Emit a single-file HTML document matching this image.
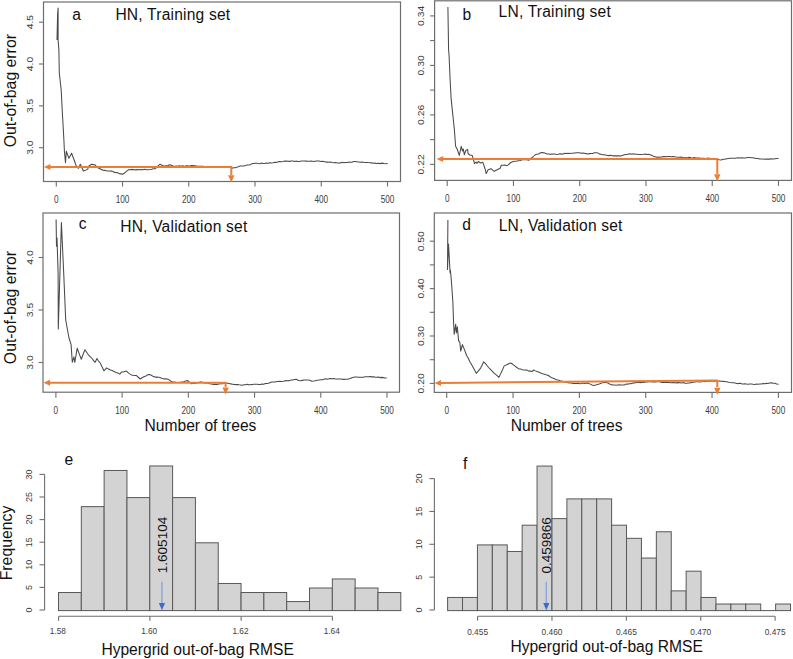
<!DOCTYPE html><html><head><meta charset="utf-8"><style>html,body{margin:0;padding:0;width:793px;height:659px;overflow:hidden;background:#fff}</style></head><body><svg width="793" height="659" viewBox="0 0 793 659" style="position:absolute;left:0;top:0;font-family:&quot;Liberation Sans&quot;,sans-serif">
<rect width="793" height="659" fill="#fff"/>
<rect x="43.5" y="2" width="357" height="179.5" fill="none" stroke="#6e6e6e" stroke-width="1.2"/>
<line x1="56.3" y1="181" x2="56.3" y2="186.5" stroke="#6e6e6e" stroke-width="1.1"/>
<text transform="translate(56.3,203.1) scale(0.8,1)" x="0" y="0" font-size="10.3" fill="#3c3c3c" text-anchor="middle">0</text>
<line x1="122.54" y1="181" x2="122.54" y2="186.5" stroke="#6e6e6e" stroke-width="1.1"/>
<text transform="translate(122.54,203.1) scale(0.8,1)" x="0" y="0" font-size="10.3" fill="#3c3c3c" text-anchor="middle">100</text>
<line x1="188.78" y1="181" x2="188.78" y2="186.5" stroke="#6e6e6e" stroke-width="1.1"/>
<text transform="translate(188.78,203.1) scale(0.8,1)" x="0" y="0" font-size="10.3" fill="#3c3c3c" text-anchor="middle">200</text>
<line x1="255.02" y1="181" x2="255.02" y2="186.5" stroke="#6e6e6e" stroke-width="1.1"/>
<text transform="translate(255.02,203.1) scale(0.8,1)" x="0" y="0" font-size="10.3" fill="#3c3c3c" text-anchor="middle">300</text>
<line x1="321.26" y1="181" x2="321.26" y2="186.5" stroke="#6e6e6e" stroke-width="1.1"/>
<text transform="translate(321.26,203.1) scale(0.8,1)" x="0" y="0" font-size="10.3" fill="#3c3c3c" text-anchor="middle">400</text>
<line x1="387.5" y1="181" x2="387.5" y2="186.5" stroke="#6e6e6e" stroke-width="1.1"/>
<text transform="translate(387.5,203.1) scale(0.8,1)" x="0" y="0" font-size="10.3" fill="#3c3c3c" text-anchor="middle">500</text>
<line x1="39" y1="22.2" x2="43.5" y2="22.2" stroke="#6e6e6e" stroke-width="1.1"/>
<text transform="translate(32.6,22.2) scale(0.8,1) rotate(-90)" x="0" y="0" font-size="10.3" fill="#3c3c3c" text-anchor="middle">4.5</text>
<line x1="39" y1="64" x2="43.5" y2="64" stroke="#6e6e6e" stroke-width="1.1"/>
<text transform="translate(32.6,64) scale(0.8,1) rotate(-90)" x="0" y="0" font-size="10.3" fill="#3c3c3c" text-anchor="middle">4.0</text>
<line x1="39" y1="105.9" x2="43.5" y2="105.9" stroke="#6e6e6e" stroke-width="1.1"/>
<text transform="translate(32.6,105.9) scale(0.8,1) rotate(-90)" x="0" y="0" font-size="10.3" fill="#3c3c3c" text-anchor="middle">3.5</text>
<line x1="39" y1="147.7" x2="43.5" y2="147.7" stroke="#6e6e6e" stroke-width="1.1"/>
<text transform="translate(32.6,147.7) scale(0.8,1) rotate(-90)" x="0" y="0" font-size="10.3" fill="#3c3c3c" text-anchor="middle">3.0</text>
<polyline points="57,40 57.6,14 58.1,8 58.1,40 58.9,50 59.3,73 61.2,90 62.2,110 63.9,140 64.4,151.3 65.5,162.7 66.3,151.3 68.9,158.2 71.6,153.2 73.85,159.27 76.1,165.7 78.4,168.4 80.3,164.2 81.8,167.2 83.3,171 84.8,170.6 87.8,169.1 88.6,166.1 91.6,164.2 93.5,164.63 95.4,165 96.9,167.2 99.9,168.7 103,170.3 104.7,170.38 106.4,170.72 108.1,170.91 109.8,171 111.41,171.11 113.03,171.48 114.64,172.47 116.25,172.48 117.86,172.88 119.47,173.82 121.09,173.87 122.7,174.3 124.7,172.97 126.7,171.15 128.7,169.6 130.44,169.7 132.19,169.36 133.93,169.69 135.67,169.86 137.41,169.62 139.16,169.77 140.9,169.6 142.7,169.72 144.5,169.29 146.3,169.78 148.1,169.66 149.9,169.6 151.57,169.19 153.23,168.74 154.9,168.8 156.53,167.56 158.17,165.78 159.8,164.3 161.47,165.02 163.13,165.7 164.8,166 166.43,165.72 168.07,165.43 169.7,164.7 171.33,165.16 172.97,165.98 174.6,166.3 176.23,166.06 177.87,166.2 179.5,165.7 181.13,166.17 182.77,165.82 184.4,166.3 186.04,165.89 187.68,165.78 189.32,166.15 190.96,165.62 192.6,165.5 194.23,165.86 195.87,165.89 197.5,166.3 199.25,166.33 201,166.26 202.75,166.26 204.5,166.44 206.25,166.46 208,166.7 209.75,166.57 211.5,166.76 213.25,166.73 215,166.5 216.7,166.9 218.4,166.73 220.1,166.43 221.8,166.97 223.5,167.1 225.2,167.12 226.9,166.94 228.6,167.09 230.3,167 232,168.3 233.63,167.71 235.27,167.77 236.9,167.2 238.53,166.62 240.17,166.08 241.8,166 243.45,166 245.1,165.84 246.75,164.96 248.4,165 250.03,164.68 251.67,163.87 253.3,163.4 254.94,163.16 256.59,163.26 258.23,163.59 259.87,163.66 261.51,163.08 263.16,163.48 264.8,163.4 266.46,162.9 268.13,163.19 269.79,162.74 271.45,162.94 273.12,162.83 274.78,162.31 276.45,162.48 278.11,161.81 279.77,161.47 281.44,161.65 283.1,161.4 284.74,161.05 286.38,161.14 288.03,161.26 289.67,161.38 291.31,161.03 292.95,160.93 294.59,161.48 296.23,161.07 297.88,161.5 299.52,161.43 301.16,161.04 302.8,161.1 304.44,161.07 306.08,161.11 307.72,161.2 309.36,161.17 311,161.14 312.64,161.18 314.28,161.41 315.92,161.1 317.56,161.05 319.2,161.1 320.84,161.43 322.47,161.26 324.11,161.48 325.75,162.13 327.38,161.98 329.02,162.17 330.65,161.97 332.29,162.42 333.93,162.71 335.56,162.49 337.2,163 338.84,162.97 340.48,162.88 342.12,162.37 343.77,162.66 345.41,162.43 347.05,162.48 348.69,162.14 350.33,162.28 351.97,162.19 353.62,161.58 355.26,161.5 356.9,161.7 358.54,161.96 360.18,162.31 361.82,161.95 363.47,162.24 365.11,162.47 366.75,162.42 368.39,162.6 370.03,162.7 371.68,162.88 373.32,163.18 374.96,163.12 376.6,163.4 378.45,163.33 380.3,163.62 382.15,163.12 384,163.52 385.85,163.65 387.7,163.5" fill="none" stroke="#4a4a4a" stroke-width="1.05" stroke-linejoin="round" />
<polyline points="50,167.1 231.3,167.1 231.3,175" fill="none" stroke="#ed7d31" stroke-width="2.0" stroke-linejoin="round" />
<polygon points="43.9,167.1 50.4,164.1 50.4,170.1" fill="#ed7d31"/>
<polygon points="231.3,182.2 228.1,175.2 234.5,175.2" fill="#ed7d31"/>
<rect x="434.6" y="0.8" width="356.9" height="179.6" fill="none" stroke="#6e6e6e" stroke-width="1.2"/>
<line x1="447.2" y1="180.4" x2="447.2" y2="185.9" stroke="#6e6e6e" stroke-width="1.1"/>
<text transform="translate(447.2,202) scale(0.8,1)" x="0" y="0" font-size="10.3" fill="#3c3c3c" text-anchor="middle">0</text>
<line x1="513.46" y1="180.4" x2="513.46" y2="185.9" stroke="#6e6e6e" stroke-width="1.1"/>
<text transform="translate(513.46,202) scale(0.8,1)" x="0" y="0" font-size="10.3" fill="#3c3c3c" text-anchor="middle">100</text>
<line x1="579.72" y1="180.4" x2="579.72" y2="185.9" stroke="#6e6e6e" stroke-width="1.1"/>
<text transform="translate(579.72,202) scale(0.8,1)" x="0" y="0" font-size="10.3" fill="#3c3c3c" text-anchor="middle">200</text>
<line x1="645.98" y1="180.4" x2="645.98" y2="185.9" stroke="#6e6e6e" stroke-width="1.1"/>
<text transform="translate(645.98,202) scale(0.8,1)" x="0" y="0" font-size="10.3" fill="#3c3c3c" text-anchor="middle">300</text>
<line x1="712.24" y1="180.4" x2="712.24" y2="185.9" stroke="#6e6e6e" stroke-width="1.1"/>
<text transform="translate(712.24,202) scale(0.8,1)" x="0" y="0" font-size="10.3" fill="#3c3c3c" text-anchor="middle">400</text>
<line x1="778.5" y1="180.4" x2="778.5" y2="185.9" stroke="#6e6e6e" stroke-width="1.1"/>
<text transform="translate(778.5,202) scale(0.8,1)" x="0" y="0" font-size="10.3" fill="#3c3c3c" text-anchor="middle">500</text>
<line x1="430.1" y1="164.4" x2="434.6" y2="164.4" stroke="#6e6e6e" stroke-width="1.1"/>
<text transform="translate(423.6,164.4) scale(0.8,1) rotate(-90)" x="0" y="0" font-size="10.3" fill="#3c3c3c" text-anchor="middle">0.22</text>
<line x1="430.1" y1="139.6" x2="434.6" y2="139.6" stroke="#6e6e6e" stroke-width="1.1"/>
<line x1="430.1" y1="114.9" x2="434.6" y2="114.9" stroke="#6e6e6e" stroke-width="1.1"/>
<text transform="translate(423.6,114.9) scale(0.8,1) rotate(-90)" x="0" y="0" font-size="10.3" fill="#3c3c3c" text-anchor="middle">0.26</text>
<line x1="430.1" y1="90.1" x2="434.6" y2="90.1" stroke="#6e6e6e" stroke-width="1.1"/>
<line x1="430.1" y1="65.4" x2="434.6" y2="65.4" stroke="#6e6e6e" stroke-width="1.1"/>
<text transform="translate(423.6,65.4) scale(0.8,1) rotate(-90)" x="0" y="0" font-size="10.3" fill="#3c3c3c" text-anchor="middle">0.30</text>
<line x1="430.1" y1="40.6" x2="434.6" y2="40.6" stroke="#6e6e6e" stroke-width="1.1"/>
<line x1="430.1" y1="15.9" x2="434.6" y2="15.9" stroke="#6e6e6e" stroke-width="1.1"/>
<text transform="translate(423.6,15.9) scale(0.8,1) rotate(-90)" x="0" y="0" font-size="10.3" fill="#3c3c3c" text-anchor="middle">0.34</text>
<polyline points="447.9,7 448.6,50 449.1,56 450.1,79.3 451.1,98.4 454.4,130 454.4,130 455.6,146.3 457.1,149 459.3,155.4 461.2,146.3 462.5,151 463.3,149 464.3,154.7 465.8,150.5 467.7,149.4 468,153.5 469.9,155 472.2,155.4 473.7,160.7 474.5,163.7 476,162 477,163.5 478.3,161.5 480.5,163 482.8,162.2 485.1,169 486.2,173.6 488.1,169.8 491.1,168.7 494.1,171.3 497.2,169.8 500.2,168.3 501.3,165.3 502.93,165.17 504.55,165.11 506.18,165.51 507.8,165.3 510.7,162.5 512.7,161.82 514.7,161.28 516.7,161 518.52,160.65 520.34,160.54 522.16,159.82 523.98,159.68 525.8,159.5 528.8,160.3 530.83,158.42 532.87,157 534.9,155 536.77,154.31 538.65,153.95 540.52,152.82 542.4,152.4 544.7,153.04 547,153.9 548.6,154.09 550.2,154.34 551.8,154.12 553.4,154.04 555,154.05 556.6,154.4 558.23,154.25 559.87,153.85 561.5,154.11 563.13,153.97 564.77,153.35 566.4,153.4 568.04,153.17 569.67,153.47 571.31,153.27 572.95,153.31 574.59,152.92 576.23,152.69 577.86,152.73 579.5,152.8 581.14,153.23 582.78,153.08 584.42,153.35 586.06,153.62 587.7,153.9 589.34,153.62 590.98,153.4 592.62,153.53 594.26,152.78 595.9,152.8 597.53,152.84 599.17,153.88 600.8,154.22 602.43,154.67 604.07,154.67 605.7,155.1 607.34,155.53 608.99,155.62 610.63,155.24 612.28,155.72 613.92,155.89 615.57,155.88 617.21,155.89 618.86,155.84 620.5,156.1 622.14,155.55 623.78,155.03 625.42,154.48 627.06,154.4 628.7,153.9 630.34,153.78 631.98,154.18 633.62,153.68 635.27,154.32 636.91,154.2 638.55,154.4 640.19,154.41 641.83,154.45 643.48,154.25 645.12,153.89 646.76,154.44 648.4,154.3 650.04,154.65 651.68,155.32 653.32,156.15 654.96,156.64 656.6,157.2 658.23,157.03 659.86,157.28 661.49,156.94 663.11,156.63 664.74,156.46 666.37,156.77 668,156.4 669.64,156.5 671.29,156.83 672.93,156.64 674.57,156.65 676.21,157 677.86,157.31 679.5,157.2 681.13,157.05 682.76,157.56 684.39,157.74 686.02,157.73 687.65,157.83 689.28,157.34 690.91,157.85 692.54,158.09 694.17,157.6 695.8,158 697.44,157.91 699.08,157.98 700.72,158.23 702.35,158.22 703.99,158.33 705.63,158.61 707.27,158.14 708.91,158.24 710.55,158.36 712.18,158.43 713.82,158.46 715.46,159.16 717.1,158.9 719.15,159.7 721.2,160 723.05,159.31 724.9,159.2 726.75,158.67 728.6,158.4 730.24,158.22 731.87,158.2 733.51,158.35 735.14,158.26 736.78,158.05 738.41,157.88 740.05,157.93 741.69,157.74 743.32,157.99 744.96,158.05 746.59,157.77 748.23,157.51 749.86,157.52 751.5,157.7 753.14,157.81 754.77,158.17 756.41,158.5 758.05,158.42 759.69,158.91 761.33,158.99 762.96,159.05 764.6,159.3 766.35,159.11 768.1,159.1 769.85,159.14 771.6,158.84 773.35,158.94 775.1,158.67 776.85,158.42 778.6,158.5" fill="none" stroke="#4a4a4a" stroke-width="1.05" stroke-linejoin="round" />
<polyline points="442,159.1 717.3,159.1 717.3,174" fill="none" stroke="#ed7d31" stroke-width="2.0" stroke-linejoin="round" />
<polygon points="436.6,159.1 443.1,156.1 443.1,162.1" fill="#ed7d31"/>
<polygon points="717.3,181.3 714.1,174.3 720.5,174.3" fill="#ed7d31"/>
<rect x="43" y="213" width="356.5" height="179.2" fill="none" stroke="#6e6e6e" stroke-width="1.2"/>
<line x1="55.9" y1="392.2" x2="55.9" y2="397.7" stroke="#6e6e6e" stroke-width="1.1"/>
<text transform="translate(55.9,413.5) scale(0.8,1)" x="0" y="0" font-size="10.3" fill="#3c3c3c" text-anchor="middle">0</text>
<line x1="122.12" y1="392.2" x2="122.12" y2="397.7" stroke="#6e6e6e" stroke-width="1.1"/>
<text transform="translate(122.12,413.5) scale(0.8,1)" x="0" y="0" font-size="10.3" fill="#3c3c3c" text-anchor="middle">100</text>
<line x1="188.34" y1="392.2" x2="188.34" y2="397.7" stroke="#6e6e6e" stroke-width="1.1"/>
<text transform="translate(188.34,413.5) scale(0.8,1)" x="0" y="0" font-size="10.3" fill="#3c3c3c" text-anchor="middle">200</text>
<line x1="254.56" y1="392.2" x2="254.56" y2="397.7" stroke="#6e6e6e" stroke-width="1.1"/>
<text transform="translate(254.56,413.5) scale(0.8,1)" x="0" y="0" font-size="10.3" fill="#3c3c3c" text-anchor="middle">300</text>
<line x1="320.78" y1="392.2" x2="320.78" y2="397.7" stroke="#6e6e6e" stroke-width="1.1"/>
<text transform="translate(320.78,413.5) scale(0.8,1)" x="0" y="0" font-size="10.3" fill="#3c3c3c" text-anchor="middle">400</text>
<line x1="387" y1="392.2" x2="387" y2="397.7" stroke="#6e6e6e" stroke-width="1.1"/>
<text transform="translate(387,413.5) scale(0.8,1)" x="0" y="0" font-size="10.3" fill="#3c3c3c" text-anchor="middle">500</text>
<line x1="38.5" y1="362.5" x2="43" y2="362.5" stroke="#6e6e6e" stroke-width="1.1"/>
<text transform="translate(32.6,362.5) scale(0.8,1) rotate(-90)" x="0" y="0" font-size="10.3" fill="#3c3c3c" text-anchor="middle">3.0</text>
<line x1="38.5" y1="310" x2="43" y2="310" stroke="#6e6e6e" stroke-width="1.1"/>
<text transform="translate(32.6,310) scale(0.8,1) rotate(-90)" x="0" y="0" font-size="10.3" fill="#3c3c3c" text-anchor="middle">3.5</text>
<line x1="38.5" y1="257.5" x2="43" y2="257.5" stroke="#6e6e6e" stroke-width="1.1"/>
<text transform="translate(32.6,257.5) scale(0.8,1) rotate(-90)" x="0" y="0" font-size="10.3" fill="#3c3c3c" text-anchor="middle">4.0</text>
<polyline points="56.1,219.6 56.5,246.3 57,238 58.1,273 58.3,329 61.4,222.6 63.7,273 65.7,320 65.7,320 67.35,329.03 69,338 71.1,344.6 72.3,362.3 73.9,356.9 74.8,362.3 77.2,348.2 79.25,353.89 81.3,359.3 83.1,354.25 84.9,349.8 86.8,352.45 88.7,355.2 90.35,356.8 92,358.5 93.6,360.67 95.2,362.3 96.9,358.5 98.55,361.06 100.2,363 102.05,366.81 103.9,370.8 106.7,367.9 108.55,369.1 110.4,369.95 112.25,370.51 114.1,371.6 116,372.41 117.9,373 119.8,374.1 121.5,372.1 123.13,371.99 124.77,371.55 126.4,371.1 128.03,372.64 129.67,373.84 131.3,374.9 132.93,375.18 134.57,375.4 136.2,375.4 138.25,377.24 140.3,379 142.35,377.52 144.4,376.6 146.03,375.93 147.67,374.79 149.3,374.4 151.35,375.25 153.4,376.6 155.04,377.11 156.68,376.92 158.32,377.27 159.96,377.6 161.6,378.2 163.45,378.87 165.3,378.78 167.15,379.07 169,379.8 171.05,381.29 173.1,382.3 174.75,382.03 176.4,382.54 178.05,382.42 179.7,382.3 181.65,382.09 183.6,381.72 185.55,381.01 187.5,380.5 189.55,382.36 191.6,383.8 193.23,383.19 194.87,383.42 196.5,382.96 198.13,382.82 199.77,382.11 201.4,382.1 203.04,382.61 204.68,383.08 206.32,382.81 207.96,383.34 209.6,383.8 211.45,384.04 213.3,384.43 215.15,384.22 217,384.6 218.8,384.06 220.6,383.78 222.4,383.72 224.2,383.5 226,383 227.64,383.25 229.28,383.55 230.92,383.89 232.56,384.18 234.2,384.6 235.82,384.62 237.45,384.46 239.07,384.83 240.7,384.9 242.35,385.16 244,384.69 245.65,384.85 247.3,384.36 248.95,384.66 250.6,384.63 252.25,384.5 253.9,384.3 255.53,384.31 257.17,384.29 258.8,384.4 260.43,384.58 262.07,384.05 263.7,384.3 265.34,383.58 266.98,383.59 268.62,383.27 270.26,382.55 271.9,382.1 273.5,381.95 275.1,382.02 276.7,381.54 278.3,381.48 279.9,381.32 281.5,381.47 283.1,381.3 284.74,380.92 286.38,380.61 288.01,380.68 289.65,380.62 291.29,379.91 292.93,379.94 294.56,379.49 296.2,379.3 298.7,380.5 300.5,380.65 302.3,380.36 304.1,380.04 305.9,379.9 307.7,380 309.75,380.32 311.8,381.3 313.56,381 315.31,380.65 317.07,380.21 318.83,380.06 320.59,379.75 322.34,379.78 324.1,379.3 325.75,378.85 327.4,379.24 329.05,378.69 330.7,378.5 332.33,378.65 333.96,378.64 335.59,378.97 337.22,379.05 338.85,378.94 340.48,378.97 342.11,379.21 343.74,379.39 345.37,379.15 347,379.3 348.65,378.94 350.3,378.57 351.95,377.7 353.6,377.2 355.24,376.97 356.88,376.93 358.53,377.23 360.17,377.16 361.81,377.31 363.45,377.2 365.09,376.73 366.73,376.65 368.38,376.66 370.02,376.56 371.66,376.88 373.3,376.7 374.98,377.11 376.65,377.3 378.32,377.02 380,377.61 381.68,377.38 383.35,377.62 385.02,378 386.7,378" fill="none" stroke="#4a4a4a" stroke-width="1.05" stroke-linejoin="round" />
<polyline points="50,382.7 225.6,382.7 225.6,387" fill="none" stroke="#ed7d31" stroke-width="2.0" stroke-linejoin="round" />
<polygon points="43.5,382.8 50,379.8 50,385.8" fill="#ed7d31"/>
<polygon points="225.6,394.6 222.4,387.6 228.8,387.6" fill="#ed7d31"/>
<text x="200.5" y="430.9" font-size="15.6" fill="#111" text-anchor="middle" letter-spacing="0" >Number of trees</text>
<rect x="434.3" y="213" width="357.2" height="179.4" fill="none" stroke="#6e6e6e" stroke-width="1.2"/>
<line x1="446.7" y1="392.4" x2="446.7" y2="397.9" stroke="#6e6e6e" stroke-width="1.1"/>
<text transform="translate(446.7,413.5) scale(0.8,1)" x="0" y="0" font-size="10.3" fill="#3c3c3c" text-anchor="middle">0</text>
<line x1="513.04" y1="392.4" x2="513.04" y2="397.9" stroke="#6e6e6e" stroke-width="1.1"/>
<text transform="translate(513.04,413.5) scale(0.8,1)" x="0" y="0" font-size="10.3" fill="#3c3c3c" text-anchor="middle">100</text>
<line x1="579.38" y1="392.4" x2="579.38" y2="397.9" stroke="#6e6e6e" stroke-width="1.1"/>
<text transform="translate(579.38,413.5) scale(0.8,1)" x="0" y="0" font-size="10.3" fill="#3c3c3c" text-anchor="middle">200</text>
<line x1="645.72" y1="392.4" x2="645.72" y2="397.9" stroke="#6e6e6e" stroke-width="1.1"/>
<text transform="translate(645.72,413.5) scale(0.8,1)" x="0" y="0" font-size="10.3" fill="#3c3c3c" text-anchor="middle">300</text>
<line x1="712.06" y1="392.4" x2="712.06" y2="397.9" stroke="#6e6e6e" stroke-width="1.1"/>
<text transform="translate(712.06,413.5) scale(0.8,1)" x="0" y="0" font-size="10.3" fill="#3c3c3c" text-anchor="middle">400</text>
<line x1="778.4" y1="392.4" x2="778.4" y2="397.9" stroke="#6e6e6e" stroke-width="1.1"/>
<text transform="translate(778.4,413.5) scale(0.8,1)" x="0" y="0" font-size="10.3" fill="#3c3c3c" text-anchor="middle">500</text>
<line x1="429.8" y1="383.4" x2="434.3" y2="383.4" stroke="#6e6e6e" stroke-width="1.1"/>
<text transform="translate(423.6,383.4) scale(0.8,1) rotate(-90)" x="0" y="0" font-size="10.3" fill="#3c3c3c" text-anchor="middle">0.20</text>
<line x1="429.8" y1="359.7" x2="434.3" y2="359.7" stroke="#6e6e6e" stroke-width="1.1"/>
<line x1="429.8" y1="336" x2="434.3" y2="336" stroke="#6e6e6e" stroke-width="1.1"/>
<text transform="translate(423.6,336) scale(0.8,1) rotate(-90)" x="0" y="0" font-size="10.3" fill="#3c3c3c" text-anchor="middle">0.30</text>
<line x1="429.8" y1="312.3" x2="434.3" y2="312.3" stroke="#6e6e6e" stroke-width="1.1"/>
<line x1="429.8" y1="288.6" x2="434.3" y2="288.6" stroke="#6e6e6e" stroke-width="1.1"/>
<text transform="translate(423.6,288.6) scale(0.8,1) rotate(-90)" x="0" y="0" font-size="10.3" fill="#3c3c3c" text-anchor="middle">0.40</text>
<line x1="429.8" y1="264.9" x2="434.3" y2="264.9" stroke="#6e6e6e" stroke-width="1.1"/>
<line x1="429.8" y1="241.2" x2="434.3" y2="241.2" stroke="#6e6e6e" stroke-width="1.1"/>
<text transform="translate(423.6,241.2) scale(0.8,1) rotate(-90)" x="0" y="0" font-size="10.3" fill="#3c3c3c" text-anchor="middle">0.50</text>
<polyline points="447.9,220 447.5,269.5 448.5,244 450.1,273 450.4,270 451.4,281.3 452.9,302.8 453.5,320.4 454.2,334.3 455.7,324.2 456.4,333 457.3,326.7 458.6,340.6 459.9,342.5 459.9,342.5 460.7,351.1 462.4,344.6 464.45,349.61 466.5,355.2 468.13,357.95 469.77,361.5 471.4,364.3 473.03,367.15 474.67,370.2 476.3,373.3 478.35,370.91 480.4,368.4 482.05,365.22 483.7,361.8 485.33,363.35 486.97,365.48 488.6,367.5 490.5,369.39 492.4,371.36 494.3,373.3 496.6,375.15 498.9,377.4 500.67,373.63 502.43,370.05 504.2,365.9 505.82,365.1 507.45,364.48 509.07,363.46 510.7,363 512.75,364.29 514.8,365.9 516.85,367.52 518.9,368.9 520.55,368.9 522.2,369.72 523.85,370.01 525.5,370 527.12,370.12 528.75,371.11 530.38,371.11 532,371.6 533.7,370 535.33,370.89 536.95,371.58 538.58,371.96 540.2,372.8 541.85,373.45 543.5,373.96 545.15,374.59 546.8,374.9 548.43,375.55 550.07,376.71 551.7,377.67 553.33,378.29 554.97,379.01 556.6,379.8 558.25,379.95 559.9,380.65 561.55,380.97 563.2,381.5 564.85,382.05 566.5,382.42 568.15,382.75 569.8,383.1 571.42,383 573.05,383.45 574.67,383.57 576.3,383.6 578.02,383.28 579.73,383.67 581.45,383.41 583.17,382.94 584.88,383.4 586.6,383 588.42,383.37 590.25,384.13 592.08,385.03 593.9,385.5 595.68,385.02 597.47,384.44 599.25,383.95 601.03,383.27 602.82,382.62 604.6,382.2 606.24,382.53 607.88,383.02 609.52,384.03 611.16,384.62 612.8,385 614.43,385.03 616.07,385.17 617.7,384.9 619.33,384.84 620.97,384.92 622.6,385 624.24,384.97 625.88,384.1 627.51,384.14 629.15,383.67 630.79,383.75 632.43,383.17 634.06,382.87 635.7,382.7 637.35,382.54 638.99,382.55 640.64,382.62 642.28,382.23 643.93,382.49 645.57,381.88 647.22,381.9 648.86,381.69 650.51,381.61 652.15,381.99 653.8,381.7 655.44,381.96 657.08,381.68 658.72,381.78 660.36,382.04 662,382.37 663.64,382.52 665.28,382.57 666.92,382.56 668.56,382.35 670.2,382.7 671.84,382.66 673.47,382.54 675.11,382.8 676.75,382.86 678.38,382.63 680.02,382.69 681.65,383.09 683.29,382.59 684.93,383.16 686.56,383.25 688.2,383 689.84,383.05 691.48,382.4 693.12,382.26 694.76,382.02 696.4,381.7 698.12,381.73 699.83,381.91 701.55,381.65 703.26,381.31 704.98,381.64 706.69,381.32 708.41,381.34 710.12,381.37 711.84,380.8 713.55,381.27 715.27,381.14 716.98,380.96 718.7,380.9 720.35,381.14 722,381.32 723.65,381.36 725.3,381.82 726.95,381.7 728.6,382.25 730.25,382.58 731.9,382.7 733.53,382.82 735.16,383.07 736.79,383.5 738.42,383.61 740.05,383.24 741.68,383.86 743.31,383.91 744.94,383.67 746.57,384.04 748.2,384.3 749.85,384.06 751.5,383.9 753.15,384.18 754.8,384.4 756.45,383.93 758.1,384.26 759.75,384.09 761.4,383.9 763.03,383.44 764.67,383.75 766.3,383.37 767.93,383.4 769.57,383.05 771.2,382.7 773.05,383.24 774.9,383.34 776.75,384.04 778.6,384.2" fill="none" stroke="#4a4a4a" stroke-width="1.05" stroke-linejoin="round" />
<polyline points="441,382.9 717.3,380.6 717.3,387" fill="none" stroke="#ed7d31" stroke-width="2.0" stroke-linejoin="round" />
<polygon points="434.5,383 441,380 441,386" fill="#ed7d31"/>
<polygon points="717.3,394.8 714.1,387.8 720.5,387.8" fill="#ed7d31"/>
<text x="566.6" y="430.9" font-size="15.6" fill="#111" text-anchor="middle" letter-spacing="0" >Number of trees</text>
<text x="76.5" y="20" font-size="15.6" fill="#111" text-anchor="middle" letter-spacing="0" >a</text>
<text x="115.4" y="20" font-size="15.6" fill="#111" text-anchor="start" letter-spacing="0.2" >HN, Training set</text>
<text x="466.8" y="19.7" font-size="15.6" fill="#111" text-anchor="middle" letter-spacing="0" >b</text>
<text x="498.6" y="16.8" font-size="15.6" fill="#111" text-anchor="start" letter-spacing="0.2" >LN, Training set</text>
<text x="82.6" y="229.2" font-size="15.6" fill="#111" text-anchor="middle" letter-spacing="0" >c</text>
<text x="120.2" y="231.6" font-size="15.6" fill="#111" text-anchor="start" letter-spacing="0.2" >HN, Validation set</text>
<text x="466.7" y="230.3" font-size="15.6" fill="#111" text-anchor="middle" letter-spacing="0" >d</text>
<text x="498.7" y="230.5" font-size="15.6" fill="#111" text-anchor="start" letter-spacing="0.15" >LN, Validation set</text>
<text transform="translate(15.5,90.7) rotate(-90)" font-size="15.8" fill="#111" text-anchor="middle">Out-of-bag error</text>
<text transform="translate(15.5,307.5) rotate(-90)" font-size="15.8" fill="#111" text-anchor="middle">Out-of-bag error</text>
<rect x="58.5" y="592.52" width="22.82" height="18.08" fill="#d3d3d3" stroke="#585858" stroke-width="1"/>
<rect x="81.32" y="506.64" width="22.82" height="103.96" fill="#d3d3d3" stroke="#585858" stroke-width="1"/>
<rect x="104.14" y="470.48" width="22.82" height="140.12" fill="#d3d3d3" stroke="#585858" stroke-width="1"/>
<rect x="126.96" y="497.6" width="22.82" height="113" fill="#d3d3d3" stroke="#585858" stroke-width="1"/>
<rect x="149.78" y="465.96" width="22.82" height="144.64" fill="#d3d3d3" stroke="#585858" stroke-width="1"/>
<rect x="172.6" y="497.6" width="22.82" height="113" fill="#d3d3d3" stroke="#585858" stroke-width="1"/>
<rect x="195.42" y="542.8" width="22.82" height="67.8" fill="#d3d3d3" stroke="#585858" stroke-width="1"/>
<rect x="218.24" y="583.48" width="22.82" height="27.12" fill="#d3d3d3" stroke="#585858" stroke-width="1"/>
<rect x="241.06" y="592.52" width="22.82" height="18.08" fill="#d3d3d3" stroke="#585858" stroke-width="1"/>
<rect x="263.88" y="592.52" width="22.82" height="18.08" fill="#d3d3d3" stroke="#585858" stroke-width="1"/>
<rect x="286.7" y="601.56" width="22.82" height="9.04" fill="#d3d3d3" stroke="#585858" stroke-width="1"/>
<rect x="309.52" y="588" width="22.82" height="22.6" fill="#d3d3d3" stroke="#585858" stroke-width="1"/>
<rect x="332.34" y="578.96" width="22.82" height="31.64" fill="#d3d3d3" stroke="#585858" stroke-width="1"/>
<rect x="355.16" y="588" width="22.82" height="22.6" fill="#d3d3d3" stroke="#585858" stroke-width="1"/>
<rect x="377.98" y="592.52" width="22.82" height="18.08" fill="#d3d3d3" stroke="#585858" stroke-width="1"/>
<line x1="44.6" y1="610" x2="44.6" y2="474.4" stroke="#6e6e6e" stroke-width="1.1"/>
<line x1="39.5" y1="610" x2="44.6" y2="610" stroke="#6e6e6e" stroke-width="1.1"/>
<text transform="translate(32.3,610) rotate(-90)" font-size="9" fill="#3c3c3c" text-anchor="middle">0</text>
<line x1="39.5" y1="587.4" x2="44.6" y2="587.4" stroke="#6e6e6e" stroke-width="1.1"/>
<text transform="translate(32.3,587.4) rotate(-90)" font-size="9" fill="#3c3c3c" text-anchor="middle">5</text>
<line x1="39.5" y1="564.8" x2="44.6" y2="564.8" stroke="#6e6e6e" stroke-width="1.1"/>
<text transform="translate(32.3,564.8) rotate(-90)" font-size="9" fill="#3c3c3c" text-anchor="middle">10</text>
<line x1="39.5" y1="542.2" x2="44.6" y2="542.2" stroke="#6e6e6e" stroke-width="1.1"/>
<text transform="translate(32.3,542.2) rotate(-90)" font-size="9" fill="#3c3c3c" text-anchor="middle">15</text>
<line x1="39.5" y1="519.6" x2="44.6" y2="519.6" stroke="#6e6e6e" stroke-width="1.1"/>
<text transform="translate(32.3,519.6) rotate(-90)" font-size="9" fill="#3c3c3c" text-anchor="middle">20</text>
<line x1="39.5" y1="497" x2="44.6" y2="497" stroke="#6e6e6e" stroke-width="1.1"/>
<text transform="translate(32.3,497) rotate(-90)" font-size="9" fill="#3c3c3c" text-anchor="middle">25</text>
<line x1="39.5" y1="474.4" x2="44.6" y2="474.4" stroke="#6e6e6e" stroke-width="1.1"/>
<text transform="translate(32.3,474.4) rotate(-90)" font-size="9" fill="#3c3c3c" text-anchor="middle">30</text>
<line x1="58.6" y1="616.2" x2="332.4" y2="616.2" stroke="#6e6e6e" stroke-width="1.1"/>
<line x1="58.6" y1="616.2" x2="58.6" y2="620.7" stroke="#6e6e6e" stroke-width="1.1"/>
<text transform="translate(57.9,634) scale(0.94,1)" font-size="8.8" fill="#3c3c3c" text-anchor="middle">1.58</text>
<line x1="149.87" y1="616.2" x2="149.87" y2="620.7" stroke="#6e6e6e" stroke-width="1.1"/>
<text transform="translate(149.17,634) scale(0.94,1)" font-size="8.8" fill="#3c3c3c" text-anchor="middle">1.60</text>
<line x1="241.14" y1="616.2" x2="241.14" y2="620.7" stroke="#6e6e6e" stroke-width="1.1"/>
<text transform="translate(240.44,634) scale(0.94,1)" font-size="8.8" fill="#3c3c3c" text-anchor="middle">1.62</text>
<line x1="332.41" y1="616.2" x2="332.41" y2="620.7" stroke="#6e6e6e" stroke-width="1.1"/>
<text transform="translate(331.71,634) scale(0.94,1)" font-size="8.8" fill="#3c3c3c" text-anchor="middle">1.64</text>
<text x="68.8" y="465" font-size="15.6" fill="#111" text-anchor="middle" letter-spacing="0" >e</text>
<text x="197.6" y="655" font-size="15.6" fill="#111" text-anchor="middle" letter-spacing="0" >Hypergrid out-of-bag RMSE</text>
<text transform="translate(11.9,543) rotate(-90)" font-size="15.8" fill="#111" text-anchor="middle">Frequency</text>
<text transform="translate(166.6,545.0) rotate(-90)" font-size="13.5" fill="#111" text-anchor="middle">1.605104</text>
<line x1="161.95" y1="581.7" x2="161.95" y2="604" stroke="#8aa5d8" stroke-width="1.4"/>
<polygon points="161.95,610.3 158.85,602.9 165.05,602.9" fill="#3d6acc"/>
<rect x="447.6" y="597.46" width="14.91" height="13.14" fill="#d3d3d3" stroke="#585858" stroke-width="1"/>
<rect x="462.51" y="597.46" width="14.91" height="13.14" fill="#d3d3d3" stroke="#585858" stroke-width="1"/>
<rect x="477.42" y="544.9" width="14.91" height="65.7" fill="#d3d3d3" stroke="#585858" stroke-width="1"/>
<rect x="492.33" y="544.9" width="14.91" height="65.7" fill="#d3d3d3" stroke="#585858" stroke-width="1"/>
<rect x="507.24" y="551.47" width="14.91" height="59.13" fill="#d3d3d3" stroke="#585858" stroke-width="1"/>
<rect x="522.15" y="525.19" width="14.91" height="85.41" fill="#d3d3d3" stroke="#585858" stroke-width="1"/>
<rect x="537.06" y="466.06" width="14.91" height="144.54" fill="#d3d3d3" stroke="#585858" stroke-width="1"/>
<rect x="551.97" y="518.62" width="14.91" height="91.98" fill="#d3d3d3" stroke="#585858" stroke-width="1"/>
<rect x="566.88" y="498.91" width="14.91" height="111.69" fill="#d3d3d3" stroke="#585858" stroke-width="1"/>
<rect x="581.79" y="498.91" width="14.91" height="111.69" fill="#d3d3d3" stroke="#585858" stroke-width="1"/>
<rect x="596.7" y="498.91" width="14.91" height="111.69" fill="#d3d3d3" stroke="#585858" stroke-width="1"/>
<rect x="611.61" y="525.19" width="14.91" height="85.41" fill="#d3d3d3" stroke="#585858" stroke-width="1"/>
<rect x="626.52" y="538.33" width="14.91" height="72.27" fill="#d3d3d3" stroke="#585858" stroke-width="1"/>
<rect x="641.43" y="558.04" width="14.91" height="52.56" fill="#d3d3d3" stroke="#585858" stroke-width="1"/>
<rect x="656.34" y="531.76" width="14.91" height="78.84" fill="#d3d3d3" stroke="#585858" stroke-width="1"/>
<rect x="671.25" y="590.89" width="14.91" height="19.71" fill="#d3d3d3" stroke="#585858" stroke-width="1"/>
<rect x="686.16" y="571.18" width="14.91" height="39.42" fill="#d3d3d3" stroke="#585858" stroke-width="1"/>
<rect x="701.07" y="597.46" width="14.91" height="13.14" fill="#d3d3d3" stroke="#585858" stroke-width="1"/>
<rect x="715.98" y="604.03" width="14.91" height="6.57" fill="#d3d3d3" stroke="#585858" stroke-width="1"/>
<rect x="730.89" y="604.03" width="14.91" height="6.57" fill="#d3d3d3" stroke="#585858" stroke-width="1"/>
<rect x="745.8" y="604.03" width="14.91" height="6.57" fill="#d3d3d3" stroke="#585858" stroke-width="1"/>
<line x1="760.71" y1="610.6" x2="775.62" y2="610.6" stroke="#585858" stroke-width="1"/>
<rect x="775.62" y="604.03" width="14.91" height="6.57" fill="#d3d3d3" stroke="#585858" stroke-width="1"/>
<line x1="434.4" y1="610" x2="434.4" y2="478.6" stroke="#6e6e6e" stroke-width="1.1"/>
<line x1="429.4" y1="610" x2="434.4" y2="610" stroke="#6e6e6e" stroke-width="1.1"/>
<text transform="translate(422.1,610) rotate(-90)" font-size="9" fill="#3c3c3c" text-anchor="middle">0</text>
<line x1="429.4" y1="577.15" x2="434.4" y2="577.15" stroke="#6e6e6e" stroke-width="1.1"/>
<text transform="translate(422.1,577.15) rotate(-90)" font-size="9" fill="#3c3c3c" text-anchor="middle">5</text>
<line x1="429.4" y1="544.3" x2="434.4" y2="544.3" stroke="#6e6e6e" stroke-width="1.1"/>
<text transform="translate(422.1,544.3) rotate(-90)" font-size="9" fill="#3c3c3c" text-anchor="middle">10</text>
<line x1="429.4" y1="511.45" x2="434.4" y2="511.45" stroke="#6e6e6e" stroke-width="1.1"/>
<text transform="translate(422.1,511.45) rotate(-90)" font-size="9" fill="#3c3c3c" text-anchor="middle">15</text>
<line x1="429.4" y1="478.6" x2="434.4" y2="478.6" stroke="#6e6e6e" stroke-width="1.1"/>
<text transform="translate(422.1,478.6) rotate(-90)" font-size="9" fill="#3c3c3c" text-anchor="middle">20</text>
<line x1="477.6" y1="616.2" x2="775.1" y2="616.2" stroke="#6e6e6e" stroke-width="1.1"/>
<line x1="477.6" y1="616.2" x2="477.6" y2="620.7" stroke="#6e6e6e" stroke-width="1.1"/>
<text transform="translate(477.6,635.0) scale(0.95,1)" font-size="8.8" fill="#3c3c3c" text-anchor="middle">0.455</text>
<line x1="551.98" y1="616.2" x2="551.98" y2="620.7" stroke="#6e6e6e" stroke-width="1.1"/>
<text transform="translate(551.98,635.0) scale(0.95,1)" font-size="8.8" fill="#3c3c3c" text-anchor="middle">0.460</text>
<line x1="626.36" y1="616.2" x2="626.36" y2="620.7" stroke="#6e6e6e" stroke-width="1.1"/>
<text transform="translate(626.36,635.0) scale(0.95,1)" font-size="8.8" fill="#3c3c3c" text-anchor="middle">0.465</text>
<line x1="700.74" y1="616.2" x2="700.74" y2="620.7" stroke="#6e6e6e" stroke-width="1.1"/>
<text transform="translate(700.74,635.0) scale(0.95,1)" font-size="8.8" fill="#3c3c3c" text-anchor="middle">0.470</text>
<line x1="775.12" y1="616.2" x2="775.12" y2="620.7" stroke="#6e6e6e" stroke-width="1.1"/>
<text transform="translate(775.12,635.0) scale(0.95,1)" font-size="8.8" fill="#3c3c3c" text-anchor="middle">0.475</text>
<text x="465.1" y="468.6" font-size="15.6" fill="#111" text-anchor="middle" letter-spacing="0" >f</text>
<text x="606.6" y="652.4" font-size="15.6" fill="#111" text-anchor="middle" letter-spacing="0" >Hypergrid out-of-bag RMSE</text>
<text transform="translate(551.3,545.3) rotate(-90)" font-size="13.5" fill="#111" text-anchor="middle">0.459866</text>
<line x1="546.3" y1="581.7" x2="546.3" y2="604" stroke="#8aa5d8" stroke-width="1.4"/>
<polygon points="546.3,610.3 543.2,602.9 549.4,602.9" fill="#3d6acc"/>
</svg></body></html>
